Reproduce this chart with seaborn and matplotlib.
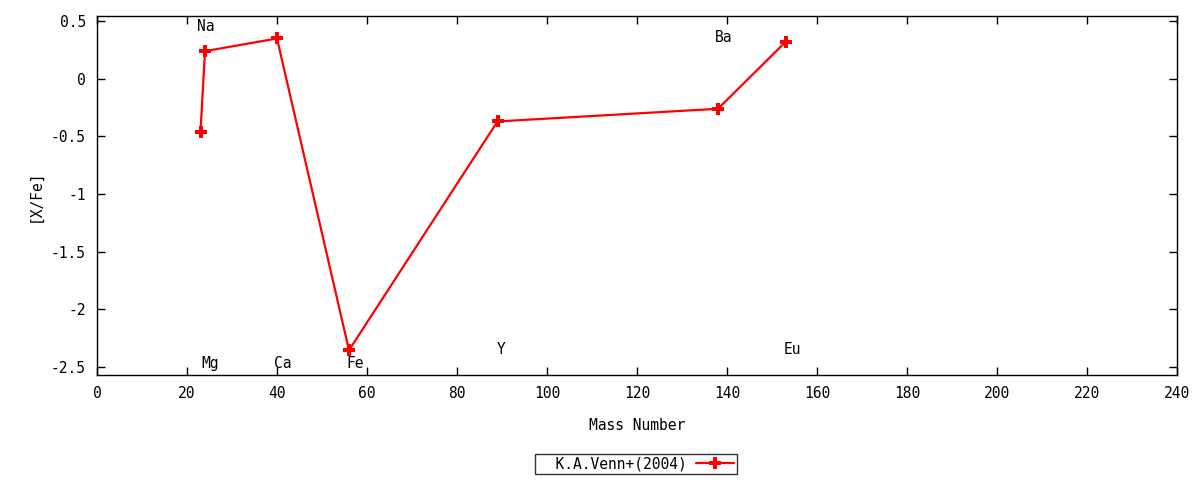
import numpy as np
import pandas as pd
import matplotlib
matplotlib.use("Agg")
import matplotlib.pyplot as plt
import matplotlib.ticker as mticker
import seaborn as sns

sns.set_theme(style="ticks")
plt.rcParams['font.family'] = ['DejaVu Sans Mono', 'DejaVu Sans']
plt.rcParams['axes.unicode_minus'] = False
plt.rcParams['text.color'] = 'black'
plt.rcParams['axes.labelcolor'] = 'black'

# data
mass = [23, 24, 40, 56, 89, 138, 153]
xfe = [-0.46, 0.24, 0.35, -2.355, -0.37, -0.26, 0.32]

elements = ["Na", "Mg", "Ca", "Fe", "Y", "Ba", "Eu"]
label_x = [22.2, 23.3, 39.3, 55.4, 88.8, 137.2, 152.6]
label_y = [0.45, -2.47, -2.47, -2.47, -2.35, 0.36, -2.35]

df = pd.DataFrame({"Mass Number": mass, "[X/Fe]": xfe})

fig = plt.figure(figsize=(12, 4.8), dpi=100)
ax = fig.add_axes([97 / 1200, 1 - 375 / 480, (1177 - 97) / 1200, (375 - 16) / 480])

sns.lineplot(data=df, x="Mass Number", y="[X/Fe]", sort=False, ax=ax,
             color="red", linewidth=1.6, marker="P", markersize=8,
             markeredgewidth=0, label="K.A.Venn+(2004)", legend=False)

for el, lx, ly in zip(elements, label_x, label_y):
    ax.text(lx, ly, el, fontsize=10.5, ha="left", va="center", color="black")

ax.set_xlim(0, 240)
ax.set_ylim(-2.57, 0.545)
ax.xaxis.set_major_locator(mticker.MultipleLocator(20))
ax.yaxis.set_major_locator(mticker.MultipleLocator(0.5))
ax.yaxis.set_major_formatter(mticker.FuncFormatter(lambda v, p: f"{v:g}"))
ax.tick_params(direction="in", length=6, width=1, top=True, right=True,
               labelsize=10.5, colors="black", pad=8)
for s in ax.spines.values():
    s.set_color("black")
    s.set_linewidth(1)

ax.set_xlabel("Mass Number", fontsize=10.5, labelpad=12)
ax.set_ylabel("[X/Fe]", fontsize=10.5, labelpad=6)

handles, labels = ax.get_legend_handles_labels()
leg = fig.legend(handles, ["  " + l for l in labels], loc="center",
                 bbox_to_anchor=(636 / 1200, 1 - 464 / 480),
                 markerfirst=False, fontsize=10.5, fancybox=False, frameon=True,
                 handlelength=2.6, borderpad=0.2, handletextpad=0.6, borderaxespad=0)
leg.get_frame().set_edgecolor("black")
leg.get_frame().set_linewidth(1)

fig.savefig("out.png", dpi=100)
